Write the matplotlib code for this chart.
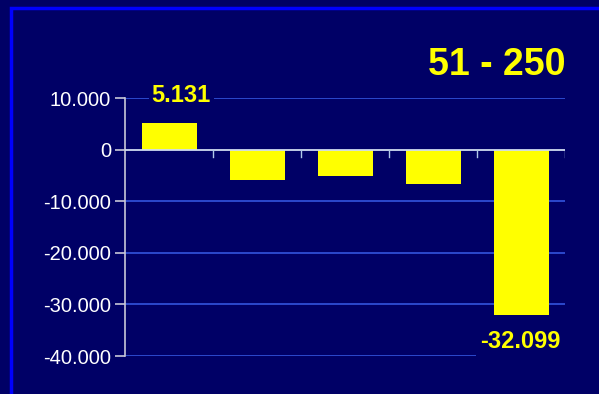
import matplotlib.pyplot as plt
from matplotlib.patches import Rectangle

# values
categories = ["A", "B", "C", "D", "E"]
values = [5.131, -5.8, -5.2, -6.7, -32.099]
label_text = {0: "5.131", 4: "-32.099"}
y_ticks = [10, 0, -10, -20, -30, -40]
y_tick_labels = ["10.000", "0", "-10.000", "-20.000", "-30.000", "-40.000"]
title = "51 - 250"

BG = "#000066"
YELLOW = "#FFFF00"
GRID = "#3355DD"
AXIS = "#C8C8D8"

plt.rcParams['font.family'] = ['Liberation Sans', 'DejaVu Sans']

fig = plt.figure(figsize=(5.99, 3.94), dpi=100)
fig.patch.set_facecolor(BG)

# blue frame around the slide
fig.patches.append(Rectangle((11 / 599, -0.1), 1.2, 1 - 8 / 394 + 0.1,
                             transform=fig.transFigure, fill=False,
                             edgecolor="#0000FF", linewidth=2.5))

ax = fig.add_axes([125 / 599, 1 - 356 / 394, 440 / 599, 258 / 394])
ax.set_facecolor(BG)

x = list(range(len(categories)))
ax.bar(x, values, width=0.625, color=YELLOW, zorder=3)

ax.set_xlim(-0.5, len(categories) - 0.5)
ax.set_ylim(-40, 10)
ax.set_yticks(y_ticks)
ax.set_yticklabels(y_tick_labels, color="white", fontsize=14.5)
for t in y_ticks:
    if t != 0:
        ax.axhline(t, color=GRID, linewidth=1.2, zorder=1)
ax.axhline(0, color="#D0DCF0", linewidth=1.3, zorder=4)

# category boundary ticks hanging off the zero line
ax.set_xticks([])
for b in [0.5, 1.5, 2.5, 3.5, 4.5]:
    ax.plot([b, b], [0, -1.5], color="#B0C8E8", linewidth=1, zorder=4)

for s in ["top", "right", "bottom"]:
    ax.spines[s].set_visible(False)
ax.spines["left"].set_color(AXIS)
ax.spines["left"].set_linewidth(1.2)
ax.tick_params(axis="y", colors=AXIS, length=7, width=1.2, pad=3)
for lbl in ax.get_yticklabels():
    lbl.set_color("white")

# data labels
ax.text(0.14, 10.5, label_text[0], color=YELLOW, fontsize=17,
        fontweight="bold", ha="center", va="center", zorder=5,
        bbox=dict(facecolor=BG, edgecolor="none", pad=2))
ax.text(3.99, -37.2, label_text[4], color=YELLOW, fontsize=17,
        fontweight="bold", ha="center", va="center", zorder=5,
        bbox=dict(facecolor=BG, edgecolor="none", pad=3))

fig.text(497 / 599, 1 - 65 / 394, title, color=YELLOW, fontsize=27,
         fontweight="bold", ha="center", va="center")

fig.savefig("out.png", dpi=100, facecolor=BG)
